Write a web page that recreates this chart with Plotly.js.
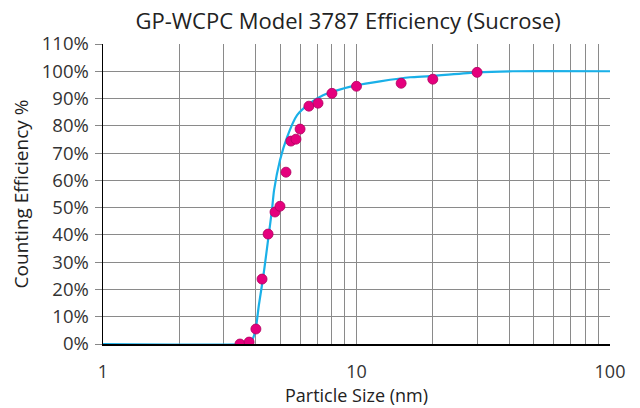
<!DOCTYPE html>
<html>
<head>
<meta charset="utf-8">
<script src="https://cdn.plot.ly/plotly-3.0.1.min.js"></script>
<style>html,body{margin:0;padding:0;background:#fff;}#chart{width:640px;height:408px;}</style>
</head>
<body>
<div id="chart"></div>
<script>
// Measured data points (particle size nm, efficiency %)
const pointSize = [3.47, 3.77, 4.01, 4.24, 4.48, 4.77, 4.99, 5.27, 5.51, 5.77, 5.99, 6.49, 7.05, 8.0, 10.0, 15.0, 20.0, 29.9];
const pointEff  = [0, 0.7, 5.5, 23.8, 40.3, 48.4, 50.5, 63.0, 74.4, 75.1, 78.8, 87.2, 88.3, 91.9, 94.5, 95.6, 97.1, 99.6];
// Fitted curve
const curveSize = [1, 3.63, 3.80, 3.91, 4.01, 4.12, 4.28, 4.40, 4.52, 4.64, 4.73, 4.99, 5.32, 5.83, 6.56, 7.38, 8.38, 10.05, 12.38, 16.26, 19.5, 29.9, 41.4, 100];
const curveEff  = [0, 0, 0.4, 2.2, 5.9, 14.3, 24.2, 32.6, 41.0, 49.1, 56.4, 67.4, 75.8, 83.9, 88.3, 91.2, 93.0, 94.9, 96.3, 97.8, 98.2, 99.6, 100, 100];
// Axis ticks
const xTickVals = [1,2,3,4,5,6,7,8,9,10,20,30,40,50,60,70,80,90,100];
const xTickText = ['1','','','','','','','','','10','','','','','','','','','100'];
const yTickVals = [0,10,20,30,40,50,60,70,80,90,100,110];
const yTickText = yTickVals.map(v => v + '%');

const font = 'Open Sans, sans-serif';
const traces = [
  {x: curveSize, y: curveEff, type: 'scatter', mode: 'lines', line: {color: '#1AB0E8', width: 2.2, shape: 'spline', smoothing: 0.6}, hoverinfo: 'skip'},
  {x: pointSize, y: pointEff, type: 'scatter', mode: 'markers', marker: {color: '#E5007D', size: 10, line: {color: '#B0005F', width: 0.8}}}
];
const layout = {
  width: 640, height: 408,
  margin: {l: 103, r: 30, t: 44, b: 64},
  paper_bgcolor: '#fff', plot_bgcolor: '#fff',
  showlegend: false,
  title: {text: 'GP-WCPC Model 3787 Efficiency (Sucrose)', font: {family: font, size: 22, color: '#222'}, x: 0.544, xanchor: 'center', y: 0.949, yanchor: 'middle'},
  xaxis: {
    type: 'log', range: [0, 2],
    tickmode: 'array', tickvals: xTickVals, ticktext: xTickText,
    showgrid: true, gridcolor: '#8a8a8a', gridwidth: 1,
    showline: true, linecolor: '#000', linewidth: 1.5,
    ticks: '', zeroline: false, ticklabelstandoff: 11,
    tickfont: {family: font, size: 18, color: '#333'},
    title: {text: 'Particle Size (nm)', font: {family: font, size: 18, color: '#222'}, standoff: 6}
  },
  yaxis: {
    range: [0, 110],
    tickmode: 'array', tickvals: yTickVals, ticktext: yTickText,
    showgrid: true, gridcolor: '#8a8a8a', gridwidth: 1,
    showline: true, linecolor: '#000', linewidth: 1.5,
    ticks: 'outside', ticklen: 7, tickcolor: '#888',
    zeroline: false, ticklabelstandoff: 2,
    tickfont: {family: font, size: 18.5, color: '#333'},
    title: {text: 'Counting Efficiency %', font: {family: font, size: 19, color: '#222'}, standoff: 8}
  }
};
Plotly.newPlot('chart', traces, layout, {displayModeBar: false, staticPlot: true});
</script>
</body>
</html>
